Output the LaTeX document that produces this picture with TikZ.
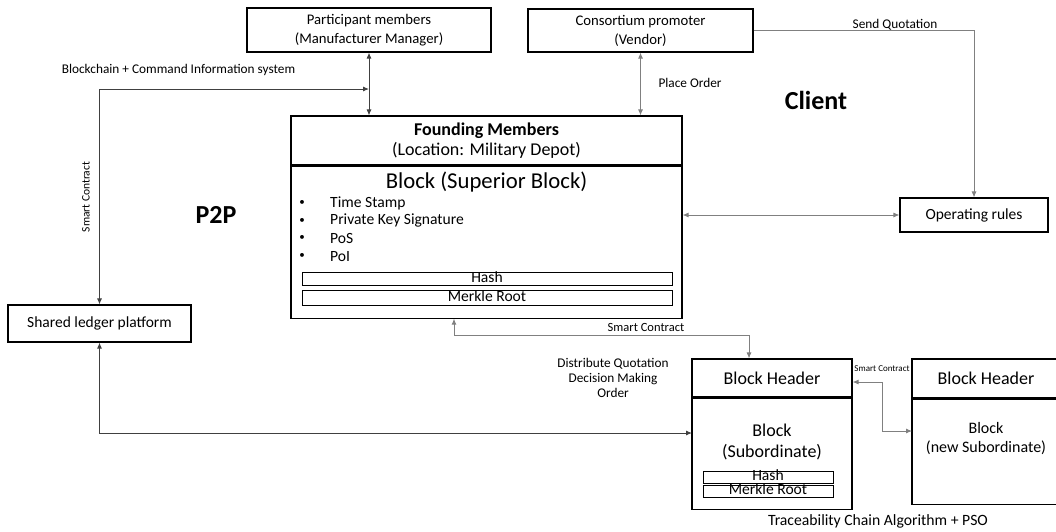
\documentclass[tikz,border=0pt]{standalone}
\usepackage{fontspec}
\setmainfont{Carlito}
\usetikzlibrary{arrows.meta,positioning}

\begin{document}
\begin{tikzpicture}[x=1pt,y=-1pt,>={Latex[length=6pt,width=5pt]},
	box/.style={draw,line width=1.1pt,inner sep=0pt,align=center},
	thinbox/.style={draw,line width=0.9pt,inner sep=0pt,text height=9pt,text depth=2pt},
	lnk/.style={line width=0.9pt,draw=black!75},
	lnkgray/.style={line width=0.9pt,draw=black!50},
	lbl/.style={font=\fontsize{13.3}{15}\selectfont,align=center},
	big/.style={font=\fontsize{26}{30}\selectfont\bfseries}]
	\useasboundingbox (0,0) rectangle (1056,531);
	\clip (0,0) rectangle (1056,531);
	% boxes
	\node[box,minimum width=244pt,minimum height=44pt,font=\fontsize{14.7}{19}\selectfont] (part) at (369,30) {Participant members\\(Manufacturer Manager)};
	\node[box,minimum width=225pt,minimum height=43pt,font=\fontsize{14.7}{19}\selectfont] (cons) at (640.5,30.5) {Consortium promoter\\(Vendor)};
	\node[box,minimum width=391pt,minimum height=49pt,font=\fontsize{18}{20}\selectfont] (fhead) at (486.5,140.5) {\textbf{Founding Members}\\(Location: Military Depot)};
	\node[box,minimum width=391pt,minimum height=152pt,below=0pt of fhead] (fbody) {};
	\node[font=\fontsize{22.7}{24}\selectfont] (stitle) at (486.5,182) {Block (Superior Block)};
	\foreach \t [count=\i] in {Time Stamp,Private Key Signature,PoS,PoI}{
		\node[font=\fontsize{11}{12}\selectfont] (bul\i) at (302,{203+17.7*(\i-1)}) {\textbullet};
		\node[anchor=west,inner sep=0pt,font=\fontsize{15.6}{18}\selectfont] (item\i) at (330,{203+17.7*(\i-1)}) {\t};
	}
	\node[thinbox,minimum width=370pt,minimum height=13pt,font=\fontsize{15.6}{18}\selectfont] (hashA) at (487,278.5) {Hash};
	\node[thinbox,minimum width=370pt,minimum height=15pt,font=\fontsize{15.6}{18}\selectfont] (mrkA) at (487,297.5) {Merkle Root};
	\node[box,minimum width=148pt,minimum height=34pt,font=\fontsize{15.5}{18}\selectfont] (ops) at (974,215) {Operating rules};
	\node[box,minimum width=183pt,minimum height=37pt,font=\fontsize{15.5}{18}\selectfont] (ledger) at (99.5,323.5) {Shared ledger platform};
	\node[box,minimum width=160pt,minimum height=38pt,font=\fontsize{18}{21}\selectfont] (shead) at (772,378) {Block Header};
	\node[box,minimum width=160pt,minimum height=111pt,below=0pt of shead] (sbody) {};
	\node[font=\fontsize{18}{21}\selectfont,align=center] (stxt) at (772,441.5) {Block\\(Subordinate)};
	\node[thinbox,minimum width=130pt,minimum height=12pt,font=\fontsize{15.6}{18}\selectfont] (hashB) at (768,477) {Hash};
	\node[thinbox,minimum width=130pt,minimum height=12pt,font=\fontsize{15.6}{18}\selectfont] (mrkB) at (768,491) {Merkle Root};
	\node[box,minimum width=148pt,minimum height=39pt,font=\fontsize{18}{21}\selectfont] (nhead) at (986,378.5) {Block Header};
	\node[box,minimum width=148pt,minimum height=105pt,below=0pt of nhead] (nbody) {};
	\node[font=\fontsize{16}{19}\selectfont,align=center] (ntxt) at (986,439) {Block\\(new Subordinate)};
	% free texts
	\node[big] (client) at (816,100) {Client};
	\node[big] (ptp) at (216,215) {P2P};
	\node[lbl] (bclbl) at (178.5,70) {Blockchain + Command Information system};
	\node[lbl,rotate=90,font=\fontsize{11.5}{13}\selectfont] (sclblA) at (86,197) {Smart Contract};
	\node[lbl,anchor=west] (polbl) at (655,83) {Place Order};
	\node[lbl] (sqlbl) at (895,25) {Send Quotation};
	\node[lbl,font=\fontsize{12.5}{14}\selectfont] (sclblB) at (646,327) {Smart Contract};
	\node[lbl,font=\fontsize{9}{10}\selectfont] (sclblC) at (882,369) {Smart Contract};
	\node[lbl] (dqlbl) at (613,378) {Distribute Quotation\\Decision Making\\Order};
	\node[font=\fontsize{15.7}{18}\selectfont] (tclbl) at (878,521) {Traceability Chain Algorithm + PSO};
	% connectors
	\coordinate (bc) at (369,89);
	\coordinate (scA) at (454,335);
	\coordinate (scB) at (749,335);
	\coordinate (scC) at (882,382);
	\coordinate (scD) at (912,431);
	\coordinate (subin) at (692,433);
	\draw[lnk,<->] (part.south) -- (part.south |- fhead.north);
	\draw[lnkgray,<->] (cons.south) -- (cons.south |- fhead.north);
	\draw[lnkgray,->] (cons.east) -| (ops.north);
	\draw[lnk,<->] (bc) -| (ledger.north);
	\draw[lnk,<->] (ledger.south) |- (subin);
	\draw[lnkgray,<->] (scA |- fbody.south) -- (scA) -- (scB) -- (scB |- shead.north);
	\draw[lnkgray,<->] (fbody.east |- ops.west) -- (ops.west);
	\draw[lnkgray,<->] (shead.east |- scC) -- (scC) |- (scD);
\end{tikzpicture}
\end{document}
